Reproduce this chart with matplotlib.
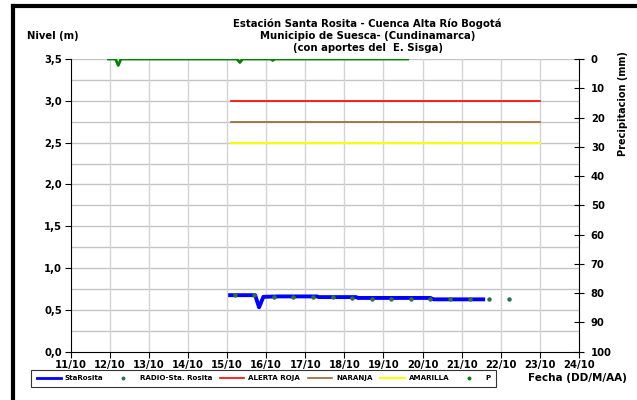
import matplotlib
matplotlib.use('Agg')
import matplotlib.pyplot as plt
from matplotlib.lines import Line2D

plt.rcParams['font.family'] = ['DejaVu Sans']
plt.rcParams['font.weight'] = 'bold'

# Nivel StaRosita (m) - dia de octubre
sta_t = [15.08, 15.72, 15.82, 15.93, 16.3, 17.3, 17.35, 18.3, 18.35, 20.2, 20.28, 21.55]
sta_v = [0.675, 0.675, 0.53, 0.655, 0.66, 0.66, 0.652, 0.652, 0.642, 0.642, 0.625, 0.625]

# RADIO-Sta. Rosita (m)
radio_t = [15.2, 15.7, 16.2, 16.7, 17.2, 17.7, 18.2, 18.7, 19.2, 19.7, 20.2, 20.7, 21.2, 21.7, 22.2]
radio_v = [0.68, 0.68, 0.655, 0.655, 0.65, 0.65, 0.64, 0.635, 0.635, 0.635, 0.635, 0.625, 0.625, 0.63, 0.63]

# Precipitacion P (mm)
p_t = [11.97, 12.15, 12.22, 12.29, 12.6, 15.25, 15.33, 15.4, 16.12, 16.17, 16.22, 19.62]
p_v = [0, 0, 2.2, 0, 0, 0, 1.2, 0, 0, 0.5, 0, 0]

# Umbrales de alerta (m)
alert_t = [15.1, 23.0]
roja = 3.0
naranja = 2.75
amarilla = 2.5

days = list(range(11, 25))
day_labels = [f'{d}/10' for d in days]

fig = plt.figure(figsize=(6.37, 4.0), dpi=100)
ax = fig.add_axes([0.1107, 0.121, 0.7983, 0.7315])

# rejilla
for y in [i * 0.25 for i in range(1, 15)]:
    ax.axhline(y, color='#c4c4c4', lw=1, zorder=0)
for d in days[1:-1]:
    ax.axvline(d, color='#d4d4d4', lw=1, zorder=0)

ax.plot(alert_t, [roja, roja], color='#ff0000', lw=1.2)
ax.plot(alert_t, [naranja, naranja], color='#996633', lw=1.2)
ax.plot(alert_t, [amarilla, amarilla], color='#ffff00', lw=1.5)
ax.plot(sta_t, sta_v, color='#0000ff', lw=2.8, zorder=3)
ax.plot(radio_t, radio_v, ls='none', marker='o', ms=2.2, color='#2f7050', zorder=4)

ax.set_xlim(11, 24)
ax.set_ylim(0, 3.5)
ax.set_xticks(days)
ax.set_xticklabels(day_labels)
ax.set_yticks([i * 0.5 for i in range(8)])
ax.set_yticklabels([f'{i * 0.5:.1f}'.replace('.', ',') for i in range(8)])
ax.tick_params(axis='both', labelsize=7.2, length=4, width=0.8, pad=2)
ax.tick_params(axis='x', direction='out')
ax.tick_params(axis='y', direction='out')
ax.spines['top'].set_visible(False)
ax.spines['right'].set_visible(False)
for s in ['left', 'bottom']:
    ax.spines[s].set_linewidth(0.8)

ax2 = ax.twinx()
ax2.plot(p_t, p_v, color='#008000', lw=2, zorder=3)
ax2.set_ylim(100, 0)
ax2.set_xlim(11, 24)
ax2.set_yticks(range(0, 101, 10))
ax2.tick_params(axis='y', labelsize=7.2, length=7, width=0.8, direction='inout', pad=5)
ax2.spines['top'].set_visible(False)
ax2.spines['left'].set_visible(False)
ax2.spines['bottom'].set_visible(False)
ax2.spines['right'].set_linewidth(0.8)

fig.text(0.577, 0.94, 'Estación Santa Rosita - Cuenca Alta Río Bogotá', ha='center', va='center', fontsize=7.3, fontweight='bold')
fig.text(0.577, 0.91, 'Municipio de Suesca- (Cundinamarca)', ha='center', va='center', fontsize=7.3, fontweight='bold')
fig.text(0.577, 0.88, '(con aportes del  E. Sisga)', ha='center', va='center', fontsize=7.3, fontweight='bold')
fig.text(0.042, 0.91, 'Nivel (m)', ha='left', va='center', fontsize=7.2, fontweight='bold')
fig.text(0.978, 0.74, 'Precipitacion (mm)', ha='center', va='center', rotation=90, fontsize=7, fontweight='bold')
fig.text(0.907, 0.054, 'Fecha (DD/M/AA)', ha='center', va='center', fontsize=7.5, fontweight='bold')

handles = [
    Line2D([], [], color='#0000ff', lw=2),
    Line2D([], [], ls='none', marker='o', ms=1.8, color='#2f7050'),
    Line2D([], [], color='#ff0000', lw=1.2),
    Line2D([], [], color='#996633', lw=1.2),
    Line2D([], [], color='#ffff00', lw=1.5),
    Line2D([], [], ls='none', marker='o', ms=1.8, color='#008000'),
]
labels = ['StaRosita', 'RADIO-Sta. Rosita', 'ALERTA ROJA', 'NARANJA', 'AMARILLA', 'P']
leg = fig.legend(handles, labels, loc='center left', bbox_to_anchor=(0.043, 0.054), ncol=6,
                 fontsize=5.1, frameon=True, fancybox=False, edgecolor='black',
                 handlelength=3.4, handletextpad=0.6, columnspacing=1.1, borderpad=0.8)
leg.get_frame().set_linewidth(0.8)
for t in leg.get_texts():
    t.set_fontweight('bold')

# marco exterior
fig.add_artist(Line2D([0.0204, 0.0204], [0.0, 0.985], transform=fig.transFigure, color='black', lw=3))
fig.add_artist(Line2D([0.0204, 1.0], [0.985, 0.985], transform=fig.transFigure, color='black', lw=3))

fig.savefig('out.png', dpi=100)
